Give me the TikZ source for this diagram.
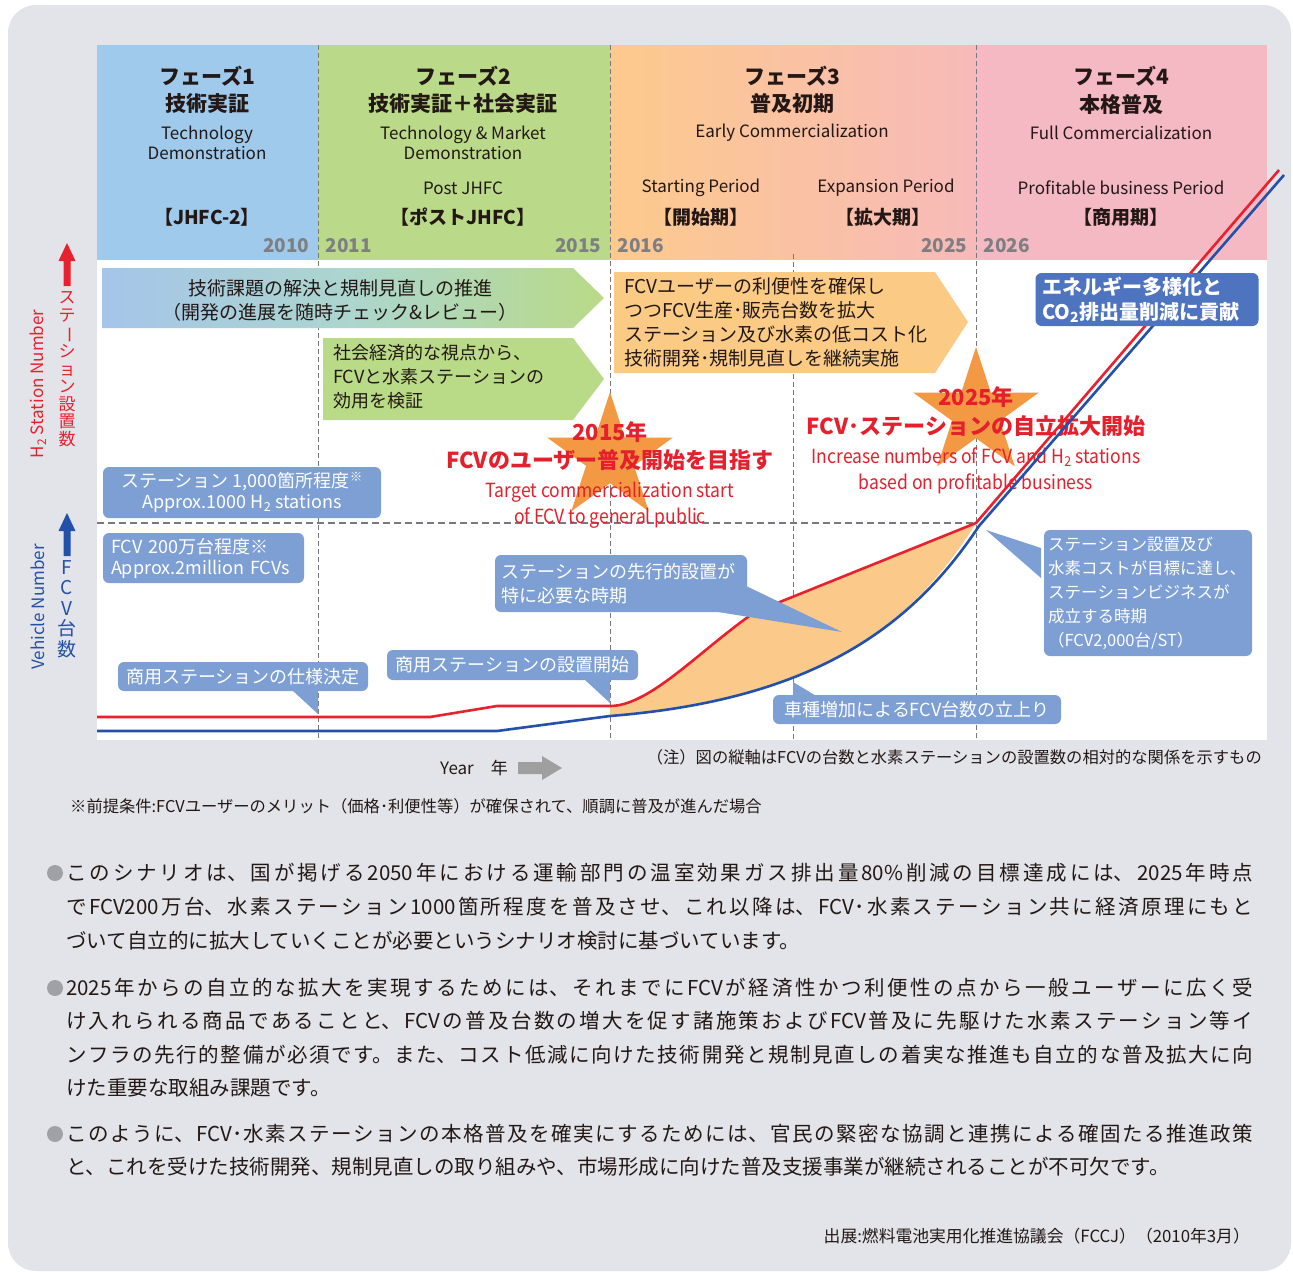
\documentclass[tikz,border=0pt]{standalone}
\usepackage{fontspec}
\usepackage{graphicx}
\setmainfont{Noto Sans CJK JP}
\newfontfamily\condfont[FakeStretch=0.9]{Noto Sans CJK JP}
\usetikzlibrary{shapes.geometric}
\setlength{\parindent}{0pt}
\XeTeXlinebreaklocale "ja"
\XeTeXlinebreakskip=0pt plus 8pt

\newcommand{\fsz}[2]{\fontsize{#1}{#2}\selectfont}

\definecolor{panelgray}{RGB}{227,228,233}
\definecolor{phaseblue}{RGB}{160,202,235}
\definecolor{phasegreen}{RGB}{186,218,138}
\definecolor{phaseorange}{RGB}{253,202,140}
\definecolor{phasesalmon}{RGB}{247,186,186}
\definecolor{phasepink}{RGB}{245,185,195}
\definecolor{arrowblue}{RGB}{165,197,233}
\definecolor{arrowteal}{RGB}{172,214,206}
\definecolor{arrowgreen}{RGB}{185,218,135}
\definecolor{arroworange}{RGB}{251,203,134}
\definecolor{starorange}{RGB}{243,153,68}
\definecolor{redline}{RGB}{232,33,46}
\definecolor{blueline}{RGB}{35,80,168}
\definecolor{fillorange}{RGB}{251,202,139}
\definecolor{callblue}{RGB}{125,159,212}
\definecolor{calldark}{RGB}{78,116,192}
\definecolor{yeargray}{RGB}{126,127,131}
\definecolor{textdark}{RGB}{35,24,21}
\definecolor{dashgray}{RGB}{120,120,125}
\definecolor{bulletgray}{RGB}{160,161,166}
\definecolor{redtext}{RGB}{229,32,45}

\tikzset{
  divider/.style={dashgray, line width=0.8pt, dash pattern=on 5pt off 3pt},
  phasehead/.style={font=\bfseries\fsz{21}{26}, text=textdark},
  phaseen/.style={font=\fsz{17}{20}, text=textdark, align=center},
  phasecode/.style={font=\bfseries\fsz{19}{24}, text=textdark},
  yearlabel/.style={font=\bfseries\fsz{19}{22}, text=yeargray},
  arrowtext/.style={font=\fsz{19}{24}, text=textdark, align=left, inner sep=0pt},
  startitle/.style={font=\bfseries\fsz{22}{26}, text=redtext},
  starsub/.style={font=\condfont\fsz{19.5}{26}, text=redtext, align=center},
  cbox/.style={fill=callblue, rounded corners=6pt, text=white, inner sep=0pt, font=\fsz{18}{24}},
  bodyline/.style={font=\fsz{20.5}{34}, text=textdark, anchor=west, inner sep=0pt},
  fullline/.style={bodyline, text width=1187pt, align=justify,
    execute at begin node={\parfillskip=0pt\tolerance=10000\relax}},
  smallnote/.style={font=\fsz{16.3}{20}, text=textdark, inner sep=0pt},
}

\begin{document}
\begin{tikzpicture}[x=1pt, y=-1pt]
\useasboundingbox (0,0) rectangle (1293,1272);
\fill[white] (0,0) rectangle (1293,1272);
\fill[panelgray, rounded corners=28pt] (8,5) rectangle (1291,1271);

% phase bands
\fill[phaseblue] (97,45) rectangle (318,260);
\fill[phasegreen] (318,45) rectangle (610,260);
\shade[left color=phaseorange, right color=phasesalmon] (610,45) rectangle (976,260);
\fill[phasepink] (976,45) rectangle (1267,260);
\fill[white] (97,260) rectangle (1267,740);

% dividers
\draw[divider] (318,45) -- (318,740);
\draw[divider] (610,45) -- (610,740);
\draw[divider] (976,45) -- (976,740);
\draw[divider] (793,254) -- (793,740);
\draw[divider, line width=1.3pt, dash pattern=on 7pt off 4pt] (97,523) -- (976,523);

% phase headers
\node[phasehead] (ph1title) at (207,76) {フェーズ1};
\node[phasehead] (ph1name) at (207,104) {技術実証};
\node[phaseen] (ph1en) at (207,143) {Technology\\Demonstration};
\node[phasecode] (ph1code) at (207,217) {【JHFC-2】};

\node[phasehead] (ph2title) at (463,76) {フェーズ2};
\node[phasehead] (ph2name) at (463,104) {技術実証＋社会実証};
\node[phaseen] (ph2en) at (463,143) {Technology \& Market\\Demonstration};
\node[phaseen] (ph2post) at (463,188) {Post JHFC};
\node[phasecode] (ph2code) at (463,217) {【ポストJHFC】};

\node[phasehead] (ph3title) at (792,76) {フェーズ3};
\node[phasehead] (ph3name) at (792,104) {普及初期};
\node[phaseen] (ph3en) at (792,133) {Early Commercialization};
\node[phaseen] (startper) at (701,188) {Starting Period};
\node[phasecode] (startcode) at (701,217) {【開始期】};
\node[phaseen] (expper) at (886,188) {Expansion Period};
\node[phasecode] (expcode) at (883,217) {【拡大期】};

\node[phasehead] (ph4title) at (1121,76) {フェーズ4};
\node[phasehead] (ph4name) at (1121,104) {本格普及};
\node[phaseen] (ph4en) at (1121,133) {Full Commercialization};
\node[phaseen] (profper) at (1121,188) {Profitable business Period};
\node[phasecode] (profcode) at (1121,217) {【商用期】};

% years
\node[yearlabel, anchor=east] (y2010) at (313,246) {2010};
\node[yearlabel, anchor=west] (y2011) at (322,246) {2011};
\node[yearlabel, anchor=east] (y2015) at (605,246) {2015};
\node[yearlabel, anchor=west] (y2016) at (614,246) {2016};
\node[yearlabel, anchor=east] (y2025) at (971,246) {2025};
\node[yearlabel, anchor=west] (y2026) at (980,246) {2026};

% policy arrows
\shade[left color=arrowblue, right color=arrowgreen, middle color=arrowteal]
  (102,268) -- (573,268) -- (604,298) -- (573,328) -- (102,328) -- cycle;
\node[arrowtext, align=center] (techtask) at (340,300) {技術課題の解決と規制見直しの推進\\（開発の進展を随時チェック\&レビュー）};
\fill[arrowgreen] (323,338) -- (573,338) -- (604,379) -- (573,420) -- (323,420) -- cycle;
\node[arrowtext, font=\fsz{18}{24}, anchor=west] (socio) at (333,377) {社会経済的な視点から、\\FCVと水素ステーションの\\効用を検証};
\fill[arroworange] (614,272) -- (935,272) -- (968,322) -- (935,373) -- (614,373) -- cycle;
\node[arrowtext, anchor=west] (userconv) at (624,322) {FCVユーザーの利便性を確保し\\つつFCV生産･販売台数を拡大\\ステーション及び水素の低コスト化\\技術開発･規制見直しを継続実施};

% stars
\node[star, star points=5, star point ratio=2.618, minimum size=132pt, inner sep=0pt, fill=starorange] (star2015) at (610,458) {};
\node[star, star points=5, star point ratio=2.618, minimum size=132pt, inner sep=0pt, fill=starorange] (star2025) at (976,413) {};
\node[startitle] (t2015) at (610,432) {2015年};
\node[startitle] (goal2015) at (610,460) {FCVのユーザー普及開始を目指す};
\node[starsub] (en2015) at (610,505) {Target commercialization start\\of FCV to general public};
\node[startitle] (t2025) at (976,397) {2025年};
\node[startitle] (goal2025) at (976,426) {FCV･ステーションの自立拡大開始};
\node[starsub] (en2025) at (976,471) {Increase numbers of FCV and H\textsubscript{2} stations\\based on profitable business};

% curves
\fill[fillorange] (610,706) .. controls (650,706) and (700,650) .. (755,612) -- (976,523)
  .. controls (910,630) and (810,700) .. (610,716) -- cycle;
\draw[redline, line width=2.6pt, line join=round] (97,717) -- (430,717) -- (497,706) -- (610,706)
  .. controls (650,706) and (700,650) .. (755,612) -- (976,523) -- (1279,170);
\draw[blueline, line width=2.6pt, line join=round] (97,731) -- (497,731) -- (610,716)
  .. controls (810,700) and (910,630) .. (979,526) -- (1284,175);

% callouts
\fill[callblue] (292,690) -- (318,690) -- (318,714) -- cycle;
\fill[callblue] (584,679) -- (610,679) -- (610,703) -- cycle;
\fill[callblue] (712,611) -- (744,585) -- (842,632) -- cycle;
\fill[callblue] (793,697) -- (818,697) -- (793,682) -- cycle;
\fill[callblue] (1041,548) -- (1041,578) -- (986,530) -- cycle;

\node[cbox, minimum width=278pt, minimum height=51pt, align=center, font=\fsz{18}{21}] (sta1000) at (242,492.5) {ステーション 1,000箇所程度\textsuperscript{※}\\Approx.1000 H\textsubscript{2} stations};
\node[cbox, minimum width=201pt, minimum height=50pt, text width=185pt, align=left, font=\fsz{18}{21}] (fcv2m) at (203.5,558) {FCV 200万台程度※\\Approx.2million FCVs};
\node[cbox, minimum width=250pt, minimum height=29pt] (specfix) at (243,676.5) {商用ステーションの仕様決定};
\node[cbox, minimum width=251pt, minimum height=30pt] (stabuild) at (512.5,665) {商用ステーションの設置開始};
\node[cbox, minimum width=252pt, minimum height=57pt, text width=240pt, align=left] (earlysta) at (621,583.5) {ステーションの先行的設置が\\特に必要な時期};
\node[cbox, minimum width=288pt, minimum height=29pt] (fcvrise) at (917,709.5) {車種増加によるFCV台数の立上り};
\node[cbox, minimum width=208pt, minimum height=126pt, text width=200pt, align=left, font=\fsz{16.5}{24}] (stabiz) at (1148,593) {ステーション設置及び\\水素コストが目標に達し、\\ステーションビジネスが\\成立する時期\\（FCV2,000台/ST）};
\node[cbox, fill=calldark, minimum width=223pt, minimum height=53pt, text width=210pt, align=left, font=\bfseries\fsz{20}{25}] (co2cut) at (1147,299.5) {エネルギー多様化と\\CO\textsubscript{2}排出量削減に貢献};

% axis labels
\fill[redline] (63.5,286) -- (63.5,261) -- (58.5,261) -- (67,243) -- (75.5,261) -- (70.5,261) -- (70.5,286) -- cycle;
\node[text=redline, font=\fsz{17}{17.5}, align=center, inner sep=0pt] (stacount) at (67,369) {ス\\テ\\\rotatebox[origin=c]{-90}{ー}\\シ\\ョ\\ン\\設\\置\\数};
\node[rotate=90, text=redline, font=\fsz{17}{20}] (h2axis) at (38,384) {H\textsubscript{2} Station Number};
\fill[blueline] (63.5,556) -- (63.5,531) -- (58.5,531) -- (67,513) -- (75.5,531) -- (70.5,531) -- (70.5,556) -- cycle;
\node[text=blueline, font=\fsz{19}{20.5}, align=center, inner sep=0pt] (fcvcount) at (67,609) {F\\C\\V\\台\\数};
\node[rotate=90, text=blueline, font=\fsz{17}{20}] (vehaxis) at (38,607) {Vehicle Number};

% below the chart
\node[smallnote, font=\fsz{17}{20}, anchor=east] (yearlab) at (508,768) {Year\quad 年};
\fill[gray!75] (518,762) -- (542,762) -- (542,756) -- (562,768) -- (542,780) -- (542,774) -- (518,774) -- cycle;
\node[smallnote, anchor=east] (axisnote) at (1262,757) {（注）図の縦軸はFCVの台数と水素ステーションの設置数の相対的な関係を示すもの};
\node[smallnote, anchor=west] (premise) at (70,806) {※前提条件:FCVユーザーのメリット（価格･利便性等）が確保されて、順調に普及が進んだ場合};

% text paragraphs
\fill[bulletgray] (55,873) circle (8);
\node[fullline] (p1a) at (66,873) {このシナリオは、国が掲げる2050年における運輸部門の温室効果ガス排出量80\%削減の目標達成には、2025年時点};
\node[fullline] (p1b) at (66,907) {でFCV200万台、水素ステーション1000箇所程度を普及させ、これ以降は、FCV･水素ステーション共に経済原理にもと};
\node[bodyline] (p1c) at (66,941) {づいて自立的に拡大していくことが必要というシナリオ検討に基づいています。};
\fill[bulletgray] (55,988) circle (8);
\node[fullline] (p2a) at (66,988) {2025年からの自立的な拡大を実現するためには、それまでにFCVが経済性かつ利便性の点から一般ユーザーに広く受};
\node[fullline] (p2b) at (66,1021) {け入れられる商品であることと、FCVの普及台数の増大を促す諸施策およびFCV普及に先駆けた水素ステーション等イ};
\node[fullline] (p2c) at (66,1055) {ンフラの先行的整備が必須です。また、コスト低減に向けた技術開発と規制見直しの着実な推進も自立的な普及拡大に向};
\node[bodyline] (p2d) at (66,1088) {けた重要な取組み課題です。};
\fill[bulletgray] (55,1134) circle (8);
\node[fullline] (p3a) at (66,1134) {このように、FCV･水素ステーションの本格普及を確実にするためには、官民の緊密な協調と連携による確固たる推進政策};
\node[bodyline] (p3b) at (66,1167) {と、これを受けた技術開発、規制見直しの取り組みや、市場形成に向けた普及支援事業が継続されることが不可欠です。};
\node[smallnote, font=\fsz{16.8}{20}, anchor=east] (source) at (1250,1236) {出展:燃料電池実用化推進協議会（FCCJ）（2010年3月）};
\end{tikzpicture}
\end{document}
